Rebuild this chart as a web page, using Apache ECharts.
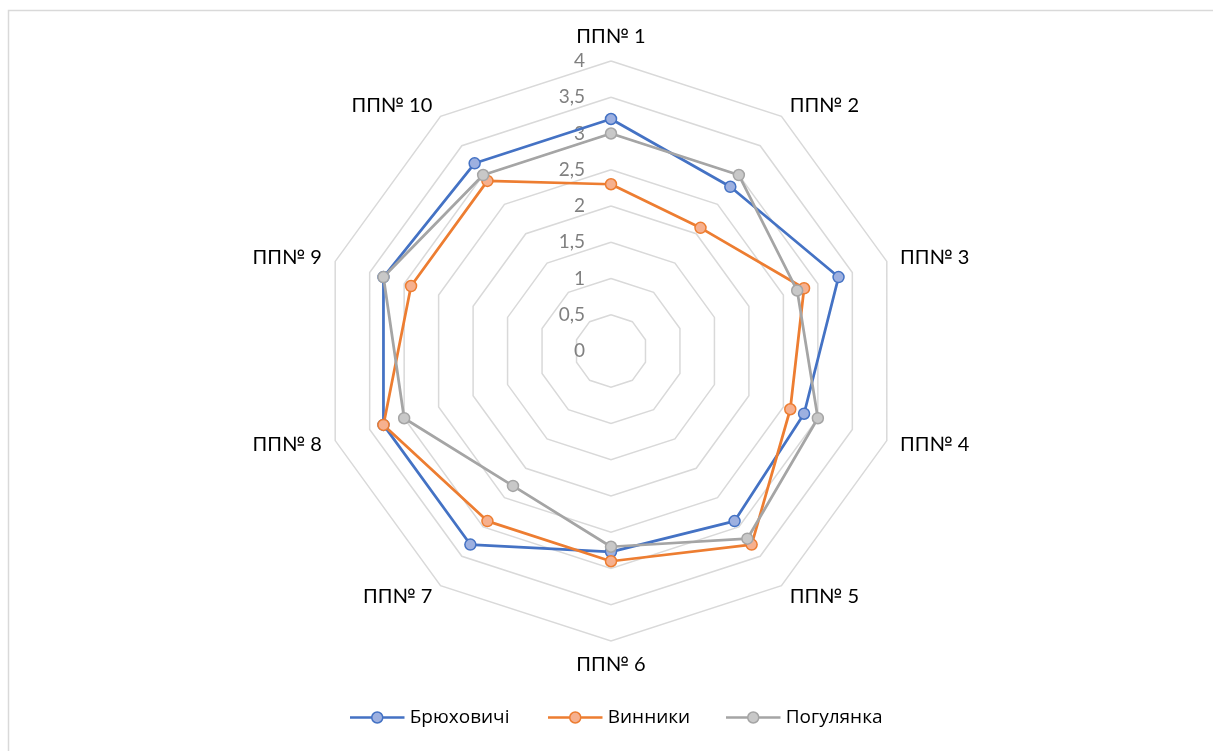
<!DOCTYPE html>
<html>
<head>
<meta charset="utf-8">
<script src="https://cdn.jsdelivr.net/npm/echarts@6/dist/echarts.min.js"></script>
<style>
  html, body { margin: 0; padding: 0; background: #fff; }
  #chart { width: 1213px; height: 751px; }
</style>
</head>
<body>
<div id="chart"></div>
<script>
const categories = ['ПП№ 1', 'ПП№ 2', 'ПП№ 3', 'ПП№ 4', 'ПП№ 5', 'ПП№ 6', 'ПП№ 7', 'ПП№ 8', 'ПП№ 9', 'ПП№ 10']
const seriesNames = ['Брюховичі', 'Винники', 'Погулянка']
const bryukhovychi = [3.2, 2.8, 3.3, 2.8, 2.9, 2.77, 3.3, 3.3, 3.3, 3.2]
const vynnyky = [2.3, 2.1, 2.8, 2.6, 3.3, 2.9, 2.9, 3.3, 2.9, 2.9]
const pohulyanka = [3.0, 3.0, 2.7, 3.0, 3.2, 2.7, 2.3, 3.0, 3.3, 3.0]
const axisMax = 4

const font = 'Lato, "Open Sans", sans-serif'
const legendFont = '"Open Sans", Lato, sans-serif'
const colors = ['#4472C4', '#ED7D31', '#A5A5A5']
const fills = ['#9DB0E0', '#F6B08E', '#C8C8C8']
const legendLeft = [345, 543, 721]

// radar runs counter-clockwise, so order the axes 1, 10, 9 ... 2 to go clockwise on screen
const order = categories.map((c, i) => (categories.length - i) % categories.length)

const chart = echarts.init(document.getElementById('chart'))

const indicator = order.map((k, i) => {
  const item = { name: categories[k], max: axisMax, min: 0 }
  if (i === 0) {
    item.axisLabel = {
      show: true,
      color: '#808080',
      fontSize: 19,
      fontFamily: font,
      margin: 26,
      formatter: v => String(v).replace('.', ',')
    }
  }
  return item
})

const seriesData = [bryukhovychi, vynnyky, pohulyanka]

// line + marker legend glyph
const legendIcon = 'path://M0,5.5L21,5.5L21,6.5L0,6.5Z M32,5.5L53,5.5L53,6.5L32,6.5Z M32,6A5.5,5.5 0 1 1 21,6A5.5,5.5 0 1 1 32,6Z'

// one legend per series so each item sits where the reference has it
const legends = seriesNames.map((n, i) => ({
  top: 703,
  left: legendLeft[i],
  itemWidth: 53,
  itemHeight: 12,
  itemGap: 0,
  textStyle: { fontSize: 19, fontFamily: legendFont, color: '#000', padding: [0, 0, 0, 1] },
  data: [{
    name: n,
    icon: legendIcon,
    itemStyle: { color: fills[i], borderColor: colors[i], borderWidth: 1.5 }
  }]
}))

chart.setOption({
  animation: false,
  graphic: [{
    type: 'rect',
    left: 6,
    top: 8,
    shape: { width: 1400, height: 900 },
    style: { fill: 'none', stroke: '#D9D9D9', lineWidth: 1.5 },
    silent: true
  }],
  legend: legends,
  radar: {
    center: [611, 351],
    radius: 290,
    startAngle: 90,
    splitNumber: 8,
    shape: 'polygon',
    nameGap: 14,
    axisName: { color: '#000', fontSize: 20, fontFamily: font },
    axisLine: { show: false },
    axisTick: { show: false },
    splitArea: { show: false },
    splitLine: { lineStyle: { color: '#D9D9D9', width: 1.5 } },
    indicator
  },
  series: [{
    type: 'radar',
    symbol: 'circle',
    symbolSize: 11,
    data: seriesData.map((vals, i) => ({
      name: seriesNames[i],
      value: order.map(k => vals[k]),
      lineStyle: { color: colors[i], width: 2.75 },
      itemStyle: { color: fills[i], borderColor: colors[i], borderWidth: 1.5 }
    }))
  }]
})
</script>
</body>
</html>
